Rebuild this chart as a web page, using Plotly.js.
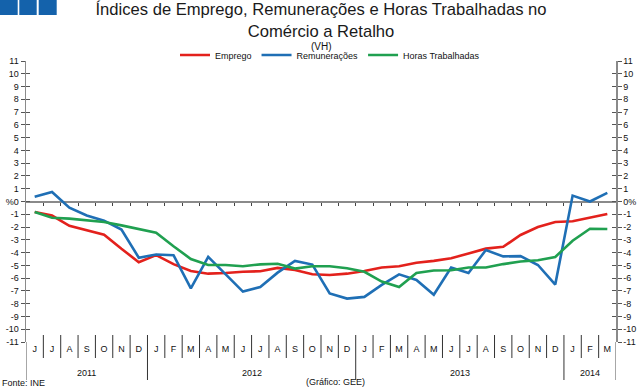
<!DOCTYPE html>
<html><head><meta charset="utf-8">
<script src="https://cdn.plot.ly/plotly-3.0.1.min.js"></script>
<style>html,body{margin:0;padding:0;background:#fff}#chart{width:643px;height:392px}</style>
</head><body><div id="chart"></div>
<script>
// ---- data ----
const months = ['J','J','A','S','O','N','D','J','F','M','A','M','J','J','A','S','O','N','D','J','F','M','A','M','J','J','A','S','O','N','D','J','F','M'];
const years = [2011,2011,2011,2011,2011,2011,2011,
               2012,2012,2012,2012,2012,2012,2012,2012,2012,2012,2012,2012,
               2013,2013,2013,2013,2013,2013,2013,2013,2013,2013,2013,2013,
               2014,2014,2014];
const emprego = [-0.82,-1.1,-1.9,-2.26,-2.6,-3.7,-4.75,-4.2,-4.9,-5.44,-5.65,-5.6,-5.5,-5.46,-5.2,-5.36,-5.7,
                 -5.75,-5.65,-5.44,-5.17,-5.07,-4.8,-4.65,-4.44,-4.08,-3.69,-3.55,-2.62,-2.0,-1.6,-1.55,-1.24,-0.98];
const remuneracoes = [0.38,0.74,-0.48,-1.1,-1.5,-2.2,-4.4,-4.15,-4.2,-6.8,-4.34,-5.7,-7.05,-6.7,-5.57,-4.65,-4.94,
                      -7.2,-7.6,-7.47,-6.53,-5.7,-6.14,-7.3,-5.17,-5.6,-3.8,-4.3,-4.28,-4.97,-6.5,0.46,0.0,0.67];
const horas = [-0.82,-1.27,-1.34,-1.45,-1.6,-1.87,-2.18,-2.44,-3.5,-4.5,-4.97,-4.97,-5.07,-4.92,-4.87,-5.25,-5.07,
               -5.07,-5.23,-5.5,-6.27,-6.7,-5.6,-5.4,-5.38,-5.17,-5.17,-4.9,-4.7,-4.6,-4.34,-3.07,-2.13,-2.15];
const seriesNames = ['Emprego','Remunerações','Horas Trabalhadas'];
const yTicks = [-11,-10,-9,-8,-7,-6,-5,-4,-3,-2,-1,0,1,2,3,4,5,6,7,8,9,10,11];
const leftTickText = yTicks.map(v => v === 0 ? '%0' : String(v));
const rightTickText = yTicks.map(v => v === 0 ? '0%' : String(v));

// ---- derived ----
const idx = months.map((m, i) => i);
const boundaries = idx.slice(1).map(i => i - 0.5);
const uniqueYears = [...new Set(years)];

// ---- style ----
const FONT = '"Liberation Sans", Arial, sans-serif';
const axisGray = '#8a8a8a';
const tickCol = '#555';
const colors = ['#e3211c', '#1f6fb5', '#20a050'];
const W = 643, H = 392, L = 26, R = 27, T = 61, B = 50;
const pw = W - L - R, ph = H - T - B;
const px = p => (p - L) / pw;          // pixel x -> paper
const py = p => (H - B - p) / ph;      // pixel y -> paper

const mk = (y, i) => ({x: idx, y: y, name: seriesNames[i], type: 'scatter', mode: 'lines',
  line: {color: colors[i], width: 2.6}, hoverinfo: 'skip'});
const dummy = (xa, ya) => ({x: [], y: [], xaxis: xa, yaxis: ya, type: 'scatter', mode: 'lines', showlegend: false, hoverinfo: 'skip'});

const data = [mk(emprego, 0), mk(remuneracoes, 1), mk(horas, 2),
  dummy('x2', 'y'), dummy('x', 'y2'), dummy('x', 'y3'), dummy('x', 'y4')];

const shapes = [];
// logo squares
[[0, 17.7], [19.3, 36.7], [38.7, 56.7]].forEach(([a, b]) => shapes.push({
  type: 'rect', xref: 'paper', yref: 'paper', x0: px(a), x1: px(b), y0: py(0), y1: py(15),
  fillcolor: '#1462ab', line: {width: 0}}));
// month / year separators in label area
boundaries.forEach((b, k) => {
  const yearChange = years[k + 1] !== years[k];
  shapes.push({type: 'line', xref: 'x', yref: 'paper', x0: b, x1: b, y0: py(335), y1: py(yearChange ? 380 : 358),
    line: {color: '#333', width: 1}});
});
// axis extensions down through label area
[-0.5, months.length - 0.5].forEach(b => shapes.push({type: 'line', xref: 'x', yref: 'paper', x0: b, x1: b,
  y0: 0, y1: py(380), line: {color: axisGray, width: 1.5}}));

const annotations = [];
uniqueYears.forEach(yr => {
  const ids = idx.filter(i => years[i] === yr);
  const c = (ids[0] + ids[ids.length - 1]) / 2;
  annotations.push({x: c, xref: 'x', y: py(373), yref: 'paper', text: String(yr), showarrow: false,
    xanchor: 'center', yanchor: 'middle', font: {family: FONT, size: 9, color: '#111'}});
});
annotations.push({x: 0.5, xref: 'paper', y: py(47), yref: 'paper', text: '(VH)', showarrow: false,
  xanchor: 'center', yanchor: 'middle', font: {family: FONT, size: 10, color: '#111'}});
annotations.push({x: px(0), xref: 'paper', y: py(383), yref: 'paper', text: 'Fonte: INE', showarrow: false,
  xanchor: 'left', yanchor: 'middle', font: {family: FONT, size: 9, color: '#111'}});
annotations.push({x: px(335), xref: 'paper', y: py(382), yref: 'paper', text: '(Gráfico: GEE)', showarrow: false,
  xanchor: 'center', yanchor: 'middle', font: {family: FONT, size: 9, color: '#111'}});

const yBase = {range: [-11, 11], tickvals: yTicks, showgrid: false, zeroline: false, fixedrange: true,
  tickfont: {family: FONT, size: 9, color: '#111'}, ticklen: 4, tickcolor: tickCol, tickwidth: 1};

const layout = {
  width: W, height: H, margin: {l: L, r: R, t: T, b: B, pad: 0},
  paper_bgcolor: '#fff', plot_bgcolor: 'rgba(0,0,0,0)',
  font: {family: FONT, size: 9, color: '#111'},
  showlegend: true,
  legend: {orientation: 'h', x: px(330), xanchor: 'center', y: py(55), yanchor: 'middle',
    font: {family: FONT, size: 9, color: '#111'}, itemwidth: 30, bgcolor: 'rgba(0,0,0,0)', traceorder: 'normal'},
  title: {text: 'Índices de Emprego, Remunerações e Horas Trabalhadas no<br>Comércio a Retalho',
    x: 0.5, xref: 'paper', xanchor: 'center', y: 1 - 15 / H, yref: 'container', yanchor: 'top',
    font: {family: FONT, size: 16.6, color: '#1a1a1a'}},
  xaxis: {range: [-0.5, months.length - 0.5], tickvals: idx, ticktext: months, ticks: '', showline: false,
    showgrid: false, zeroline: false, fixedrange: true, tickfont: {family: FONT, size: 9, color: '#111'}},
  xaxis2: {overlaying: 'x', anchor: 'free', position: 0.5, range: [-0.5, months.length - 0.5], tickvals: boundaries,
    ticks: 'outside', ticklen: 3, tickcolor: '#444', showticklabels: false, showline: false, showgrid: false, zeroline: false},
  yaxis: Object.assign({}, yBase, {ticktext: leftTickText, ticks: 'outside', showline: true, linecolor: axisGray, linewidth: 1.5,
    zeroline: true, zerolinecolor: axisGray, zerolinewidth: 2}),
  yaxis2: Object.assign({}, yBase, {overlaying: 'y', side: 'right', anchor: 'x', ticktext: rightTickText, ticks: 'outside',
    showline: true, linecolor: axisGray, linewidth: 1.5}),
  yaxis3: Object.assign({}, yBase, {overlaying: 'y', side: 'left', anchor: 'x', ticks: 'inside', showticklabels: false}),
  yaxis4: Object.assign({}, yBase, {overlaying: 'y', side: 'right', anchor: 'x', ticks: 'inside', showticklabels: false}),
  shapes: shapes,
  annotations: annotations
};

Plotly.newPlot('chart', data, layout, {staticPlot: true, displayModeBar: false});
</script></body></html>
